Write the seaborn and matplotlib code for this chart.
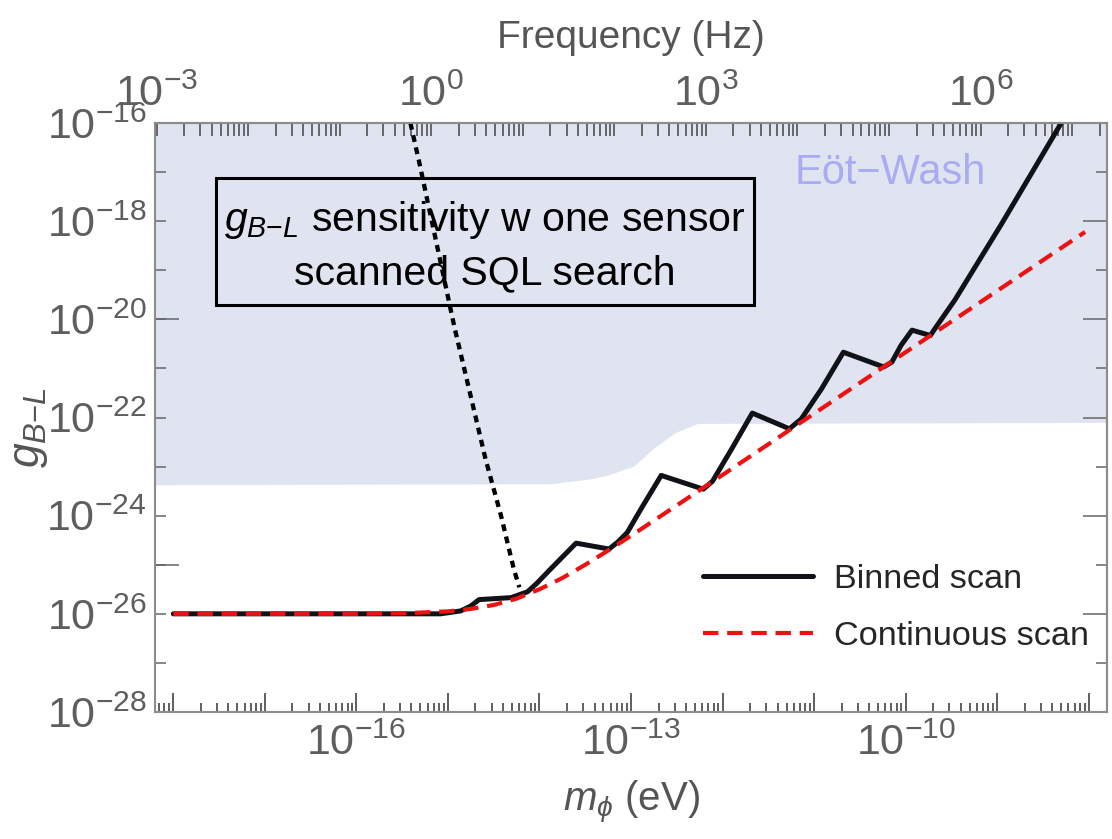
import numpy as np
import pandas as pd
import matplotlib
matplotlib.use('Agg')
import matplotlib.pyplot as plt
import seaborn as sns
from matplotlib.patches import Rectangle
from matplotlib.lines import Line2D
from matplotlib.ticker import LogLocator, FixedLocator, FuncFormatter, NullFormatter, LogFormatterSciNotation

# valeurs (log10 de m en eV et log10 de g)
cont_logm = [-18.0, -16.0, -15.5, -15.0, -14.75, -14.5, -14.25, -14.0, -13.75, -13.5,
             -13.25, -13.0, -12.5, -12.0, -8.04]
cont_logg = [-26.0, -26.0, -25.99, -25.95, -25.90, -25.82, -25.69, -25.50, -25.27, -25.00,
             -24.71, -24.41, -23.79, -23.17, -18.22]

bin_logm = [-18.0, -15.08, -14.86, -14.75, -14.66, -14.31, -14.13, -14.03, -13.88, -13.60,
            -13.24, -13.14, -13.04, -12.89, -12.67,
            -12.21, -12.11, -11.90, -11.675,
            -11.27, -11.14, -10.92, -10.68,
            -10.24, -10.15, -10.05, -9.93,
            -9.73, -9.68, -9.46, -8.95, -8.585, -8.30]
bin_logg = [-26.0, -26.0, -25.94, -25.84, -25.71, -25.67, -25.55, -25.38, -25.09, -24.56,
            -24.68, -24.53, -24.34, -23.86, -23.18,
            -23.46, -23.30, -22.64, -21.91,
            -22.23, -22.03, -21.42, -20.67,
            -20.97, -20.87, -20.53, -20.22,
            -20.33, -20.19, -19.60, -18.05, -16.90, -16.0]

dot_logm = [-15.41, -15.31, -14.93, -14.59, -14.42, -14.28, -14.22]
dot_logg = [-16.0, -16.83, -20.15, -22.84, -24.0, -25.09, -25.46]

ew_logm = [-18.2, -13.88, -13.44, -13.25, -12.97, -12.75, -12.51, -12.27, -7.8]
ew_logg = [-23.37, -23.35, -23.25, -23.17, -22.99, -22.62, -22.30, -22.12, -22.10]

hbar = 6.582e-16  # eV.s

df_cont = pd.DataFrame({'m': 10.0 ** np.array(cont_logm), 'g': 10.0 ** np.array(cont_logg)})
df_bin = pd.DataFrame({'m': 10.0 ** np.array(bin_logm), 'g': 10.0 ** np.array(bin_logg)})
df_dot = pd.DataFrame({'m': 10.0 ** np.array(dot_logm), 'g': 10.0 ** np.array(dot_logg)})

sns.set_theme(style='ticks')
plt.rcParams['font.family'] = ['Liberation Sans', 'DejaVu Sans']
plt.rcParams['mathtext.fontset'] = 'custom'
plt.rcParams['mathtext.rm'] = 'Liberation Sans'
plt.rcParams['mathtext.it'] = 'Liberation Sans:italic'
plt.rcParams['mathtext.bf'] = 'Liberation Sans:bold'

fig = plt.figure(figsize=(11.12, 8.39), dpi=100)
ax = fig.add_axes([155 / 1112, 1 - 712 / 839, 952 / 1112, 589 / 839])
ax.set_xscale('log')
ax.set_yscale('log')

# zone exclue Eot-Wash
ax.fill_between(10.0 ** np.array(ew_logm), 10.0 ** np.array(ew_logg), 1e-16,
                color='#dfe4f0', lw=0, zorder=0)

sns.lineplot(data=df_dot, x='m', y='g', ax=ax, color='black', lw=3.1,
             linestyle=(0, (1.6, 1.3)), estimator=None, sort=False)
sns.lineplot(data=df_bin, x='m', y='g', ax=ax, color='#111118', lw=3.6,
             estimator=None, sort=False)
sns.lineplot(data=df_cont, x='m', y='g', ax=ax, color='#ee1111', lw=3.0,
             linestyle=(0, (3.7, 2.1)), estimator=None, sort=False)

ax.set_xlim(10 ** -18.2, 10 ** -7.8)
ax.set_ylim(1e-28, 1e-16)
ax.set_xlabel('')
ax.set_ylabel('')

spine_col = '#8c8c8c'
for s in ax.spines.values():
    s.set_color(spine_col)
    s.set_linewidth(1.5)

tick_fs = 31
lab_col = '#5e5e5e'

# axe du bas
ax.xaxis.set_major_locator(LogLocator(base=10, numticks=40))
ax.xaxis.set_minor_locator(LogLocator(base=10, subs=np.arange(2, 10), numticks=40))
sci = LogFormatterSciNotation()
ax.xaxis.set_major_formatter(FuncFormatter(
    lambda v, p: sci(v) if round(np.log10(v)) % 3 == 2 else ''))
ax.xaxis.set_minor_formatter(NullFormatter())
ax.tick_params(axis='x', which='major', direction='in', length=13.5, width=1.1,
               color='#333333', labelsize=tick_fs, labelcolor=lab_col, pad=8, top=False)
ax.tick_params(axis='x', which='minor', direction='in', length=6.5, width=1.1,
               color='#333333', top=False)

# axe de gauche
ax.yaxis.set_major_locator(FixedLocator([10.0 ** k for k in range(-28, -15, 2)]))
ax.yaxis.set_minor_locator(FixedLocator([10.0 ** k for k in range(-27, -16, 2)]))
ax.yaxis.set_major_formatter(LogFormatterSciNotation())
ax.yaxis.set_minor_formatter(NullFormatter())
ax.tick_params(axis='y', which='both', direction='in', length=8, width=1.1,
               color='#666666', labelsize=tick_fs, labelcolor=lab_col, pad=6, right=False)

# graduations longues a gauche
secl = ax.secondary_yaxis('left')
secl.set_yticks([1e-20, 1e-25])
secl.tick_params(direction='in', length=17, width=1.1, color='#666666', labelleft=False)
secl.yaxis.set_minor_locator(FixedLocator([]))
secl.spines['left'].set_visible(False)

# axe de droite
secr = ax.secondary_yaxis('right')
secr.yaxis.set_major_locator(FixedLocator([10.0 ** k for k in range(-28, -15, 2)]))
secr.yaxis.set_minor_locator(FixedLocator([10.0 ** k for k in range(-27, -16, 2)]))
secr.tick_params(which='major', direction='in', length=17, width=1.1, color='#666666',
                 labelright=False)
secr.tick_params(which='minor', direction='in', length=8, width=1.1, color='#666666',
                 labelright=False)
secr.spines['right'].set_color(spine_col)
secr.spines['right'].set_linewidth(1.5)

# axe du haut : frequence
sect = ax.secondary_xaxis('top', functions=(lambda m: m / hbar, lambda f: f * hbar))
sect.xaxis.set_major_locator(FixedLocator([1e-3, 1e0, 1e3, 1e6]))
sect.xaxis.set_major_formatter(LogFormatterSciNotation())
sect.xaxis.set_minor_locator(LogLocator(base=10, subs=np.arange(1, 10), numticks=40))
sect.xaxis.set_minor_formatter(NullFormatter())
sect.tick_params(which='both', direction='in', length=9.5, width=1.1, color='#444444',
                 labelsize=tick_fs, labelcolor=lab_col, pad=6)
sect.spines['top'].set_color(spine_col)
sect.spines['top'].set_linewidth(1.5)

# titres des axes
fig.text(631 / 1112, 1 - 38 / 839, 'Frequency (Hz)', ha='center', va='center',
         fontsize=28, color='#555555')
fig.text(631 / 1112, 1 - 802 / 839, r'$m_{\phi}$ (eV)', ha='center', va='center',
         fontsize=29, color='#555555')
fig.text(29 / 1112, 1 - 428 / 839, r'$g_{B{-}L}$', ha='center', va='center',
         fontsize=32, color='#555555', rotation=90)

# cadre de texte
ax.add_patch(Rectangle((0.0641, 0.691), 0.565, 0.2156, transform=ax.transAxes,
                       fill=False, ec='black', lw=2.2, zorder=5))
ax.text(0.3466, 0.836, r'$g_{B{-}L}$ sensitivity w one sensor', transform=ax.transAxes,
        ha='center', va='center', fontsize=29.5, color='black', zorder=6)
ax.text(0.3466, 0.745, 'scanned SQL search', transform=ax.transAxes,
        ha='center', va='center', fontsize=29.5, color='black', zorder=6)

ax.text(0.772, 0.915, 'Eöt\u2212Wash', transform=ax.transAxes, ha='center', va='center',
        fontsize=30, color='#a9acf2', zorder=6)

handles = [Line2D([], [], color='#111118', lw=3.6),
           Line2D([], [], color='#ee1111', lw=3.0, linestyle=(0, (3.7, 2.1)))]
ax.legend(handles, ['Binned scan', 'Continuous scan'], loc='lower right',
          bbox_to_anchor=(1.013, 0.05), frameon=False, fontsize=24.7,
          handlelength=3.2, handletextpad=0.6, labelspacing=0.75)

fig.savefig('out.png', dpi=100)
